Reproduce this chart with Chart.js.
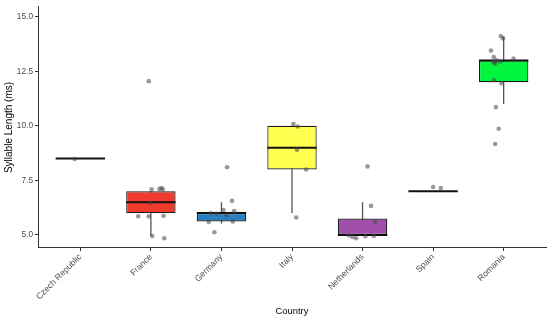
<!DOCTYPE html>
<html>
<head>
<meta charset="utf-8">
<script src="https://cdn.jsdelivr.net/npm/chart.js@4.4.1/dist/chart.umd.min.js"></script>
<style>
  html, body { margin: 0; padding: 0; background: #fff; }
  #wrap { width: 550px; height: 321px; }
</style>
</head>
<body>
<div id="wrap"><canvas id="chart"></canvas></div>
<script>
const countries = ["Czech Republic", "France", "Germany", "Italy", "Netherlands", "Spain", "Romania"];
const boxColors = ["#ffffff", "#f03a2e", "#2a7fc0", "#ffff50", "#a050a8", "#ffffff", "#00f53c"];

// box statistics
const q1 = [8.5, 6.0, 5.62, 8.0, 5.0, 7.0, 12.0];
const median = [8.5, 6.5, 6.0, 9.0, 5.0, 7.0, 13.0];
const q3 = [8.5, 7.0, 6.0, 10.0, 5.75, 7.0, 13.0];
const whiskerLow = [8.5, 4.95, 5.52, 6.0, 5.0, 7.0, 11.0];
const whiskerHigh = [8.5, 7.0, 6.5, 10.0, 6.5, 7.0, 14.1];

// jittered observations (value, horizontal jitter in category units)
const obsValues = [
    [8.48],
    [12.05, 7.09, 7.1, 7.15, 7.08, 6.45, 5.85, 5.85, 5.88, 4.95, 4.85],
    [8.1, 6.56, 6.14, 6.09, 5.99, 5.97, 5.9, 5.6, 5.62, 5.12],
    [10.08, 9.97, 8.91, 8.0, 5.8],
    [8.14, 6.33, 5.58, 4.97, 4.91, 4.85, 4.94, 4.95],
    [7.2, 7.15],
    [14.12, 14.01, 13.45, 13.15, 13.01, 12.95, 12.91, 12.86, 13.08, 12.09, 11.95, 10.86, 9.87, 9.17]
];
const obsJitter = [
    [-0.08],
    [-0.03, 0.01, 0.12, 0.15, 0.17, -0.01, -0.18, -0.03, 0.18, 0.02, 0.19],
    [0.08, 0.15, 0.03, 0.18, -0.15, -0.07, 0.07, -0.18, 0.16, -0.10],
    [0.02, 0.08, 0.07, 0.2, 0.06],
    [0.07, 0.12, 0.18, -0.19, -0.14, -0.09, 0.04, 0.16],
    [0.0, 0.11],
    [-0.04, -0.01, -0.18, -0.14, -0.10, -0.05, -0.14, -0.12, 0.14, -0.14, -0.03, -0.11, -0.07, -0.12]
];
const yTicks = [5.0, 7.5, 10.0, 12.5, 15.0];

const boxWidth = 0.7;
const fontFamily = "'Liberation Sans', Arial, sans-serif";

// whiskers under the boxes, medians on top of them
const boxPlugin = {
    id: "boxExtras",
    beforeDatasetsDraw(chart) {
        const ctx = chart.ctx;
        const x = chart.scales.x, y = chart.scales.y;
        ctx.save();
        ctx.strokeStyle = "#555555";
        ctx.lineWidth = 1.3;
        countries.forEach((c, i) => {
            const px = x.getPixelForValue(i + 1);
            ctx.beginPath();
            ctx.moveTo(px, y.getPixelForValue(whiskerLow[i]));
            ctx.lineTo(px, y.getPixelForValue(whiskerHigh[i]));
            ctx.stroke();
        });
        ctx.restore();
    },
    afterDatasetDraw(chart, args) {
        if (args.index !== 0) return;
        const ctx = chart.ctx;
        const x = chart.scales.x, y = chart.scales.y;
        ctx.save();
        ctx.strokeStyle = "#111111";
        ctx.lineWidth = 2;
        countries.forEach((c, i) => {
            const left = x.getPixelForValue(i + 1 - boxWidth / 2);
            const right = x.getPixelForValue(i + 1 + boxWidth / 2);
            const py = y.getPixelForValue(median[i]);
            ctx.beginPath();
            ctx.moveTo(left, py);
            ctx.lineTo(right, py);
            ctx.stroke();
        });
        ctx.restore();
    }
};

const points = [];
obsValues.forEach((vals, i) => {
    vals.forEach((v, j) => points.push({ x: i + 1 + obsJitter[i][j], y: v }));
});

new Chart(document.getElementById("chart"), {
    data: {
        datasets: [
            {
                type: "bar",
                data: countries.map((c, i) => ({ x: i + 1, y: [q1[i], q3[i]] })),
                backgroundColor: boxColors,
                borderColor: "#1a1a1a",
                borderWidth: 1.2,
                borderSkipped: false,
                barPercentage: boxWidth,
                categoryPercentage: 1,
                order: 2
            },
            {
                type: "scatter",
                data: points,
                pointRadius: 2.3,
                pointBackgroundColor: "rgba(70,70,70,0.55)",
                pointBorderWidth: 0,
                order: 1
            }
        ]
    },
    options: {
        responsive: true,
        maintainAspectRatio: false,
        animation: false,
        layout: { padding: { top: 4, right: 2, left: 0, bottom: 0 } },
        plugins: { legend: { display: false }, tooltip: { enabled: false } },
        scales: {
            x: {
                type: "linear",
                offset: false,
                min: 0.4,
                max: 7.6,
                afterBuildTicks: axis => { axis.ticks = countries.map((c, i) => ({ value: i + 1 })); },
                afterFit: axis => { axis.height = 73; },
                ticks: {
                    callback: v => countries[Math.round(v) - 1],
                    minRotation: 45,
                    maxRotation: 45,
                    color: "#4d4d4d",
                    font: { family: fontFamily, size: 8.6 },
                    padding: 1
                },
                grid: { offset: false, drawOnChartArea: false, drawTicks: true, tickLength: 3, color: "#333333" },
                border: { display: true, color: "#333333", width: 1 },
                title: {
                    display: true,
                    text: "Country",
                    color: "#000",
                    font: { family: fontFamily, size: 9.4 },
                    padding: { top: 0, bottom: 4 }
                }
            },
            y: {
                type: "linear",
                min: 4.4,
                max: 15.45,
                afterBuildTicks: axis => { axis.ticks = yTicks.map(v => ({ value: v })); },
                afterFit: axis => { axis.width = 38; },
                ticks: {
                    callback: v => v.toFixed(1),
                    color: "#4d4d4d",
                    font: { family: fontFamily, size: 8.3 },
                    padding: 2
                },
                grid: { drawOnChartArea: false, drawTicks: true, tickLength: 3, color: "#333333" },
                border: { display: true, color: "#333333", width: 1 },
                title: {
                    display: true,
                    text: "Syllable Length (ms)",
                    color: "#000",
                    font: { family: fontFamily, size: 10 },
                    padding: { top: 3, bottom: 0 }
                }
            }
        }
    },
    plugins: [boxPlugin]
});
</script>
</body>
</html>
